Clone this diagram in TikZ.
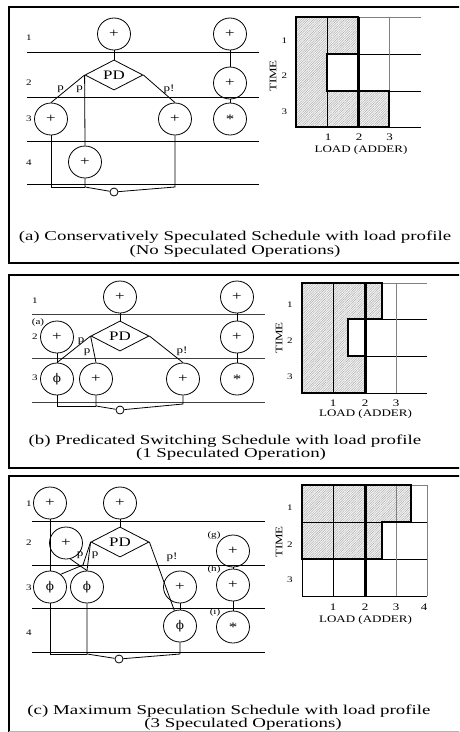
\documentclass[tikz,border=0pt]{standalone}
\usepackage{fontspec}
\setmainfont{Liberation Serif}[FakeStretch=1.3]
\newfontfamily\capfont{Liberation Serif}[FakeStretch=1.4]
\newfontfamily\phifont{DejaVu Serif}
\usetikzlibrary{shapes.geometric,patterns.meta}

\tikzset{
  op/.style={draw, ellipse, minimum width=33pt, minimum height=32pt, inner sep=0pt,
             line width=0.8pt, font=\fontsize{13}{13}\selectfont},
  phi/.style={op, font=\phifont\fontsize{12}{12}\selectfont},
  pd/.style={draw, diamond, minimum width=58pt, minimum height=28pt, inner sep=0pt,
             line width=0.8pt, font=\fontsize{13}{13}\selectfont},
  merge/.style={draw, circle, minimum size=8pt, inner sep=0pt, fill=white, line width=0.8pt},
  wire/.style={line width=0.8pt},
  stage/.style={line width=0.8pt},
  stageb/.style={line width=0.8pt, black!75},
  rowlab/.style={font=\fontsize{8.5}{8.5}\selectfont, inner sep=0pt},
  edgelab/.style={font=\fontsize{10}{10}\selectfont, inner sep=0pt},
  tag/.style={font=\fontsize{8.5}{8.5}\selectfont, inner sep=0pt},
  axlab/.style={font=\fontsize{10}{10}\selectfont, inner sep=0pt},
  caption/.style={font=\capfont\fontsize{13.5}{13.5}\selectfont, inner sep=0pt, anchor=base},
  panel/.style={line width=2pt},
  hatchbg/.style={fill=gray!10},
  hatch/.style={pattern={Lines[angle=45,distance=1.7pt,line width=0.3pt]}, pattern color=gray!75},
  grid/.style={line width=0.8pt},
  gridg/.style={line width=0.8pt, gray},
  limit/.style={line width=3pt},
  outline/.style={line width=1.1pt},
}

\begin{document}
\begin{tikzpicture}[x=1pt,y=-1pt]
\useasboundingbox (0,0) rectangle (459,732);
\clip (0,0) rectangle (459,732);

% ---------- panel frames ----------
\draw[panel] (470,7) -- (9,7) -- (9,263) -- (470,263);
\draw[panel] (470,275) -- (9,275) -- (9,468) -- (470,468);
\draw[panel] (470,476) -- (9,476) -- (9,733);
\draw[line width=0.6pt, gray!60] (9,731) -- (470,731);

% =====================================================
% (a) conservative schedule
% =====================================================
\foreach \y in {52,97,141,184} \draw[stage] (27,\y) -- (259,\y);
\node[rowlab] at (29,38) {1};
\node[rowlab] at (29,83) {2};
\node[rowlab] at (29,119) {3};
\node[rowlab] at (29,163) {4};

\node[op] (a1)  at (114,34) {+};
\node[pd] (aPD) at (114,75) {PD};
\node[op] (a3l) at (51,119) {+};
\node[op] (a3r) at (175,119) {+};
\node[op] (a4)  at (85,162) {+};
\node[op] (ar1) at (230,34) {+};
\node[op] (ar2) at (230,83) {+};
\node[op] (ar3) at (230,119) {*};
\node[merge] (am) at (114,192) {};

\draw[wire] (a1.south) -- (aPD.north);
\draw[wire] (aPD.west) -- (a3l.north);
\draw[wire] (aPD.west) -- (a4.north);
\draw[wire] (aPD.east) -- (a3r.north);
\draw[wire] (ar1.south) -- (ar2.north);
\draw[wire] (ar2.south) -- (ar3.north);

\coordinate (ab1) at (85,187);
\coordinate (ab2) at (175,187);
\draw[wire] (a3l.south) |- (ab1);
\draw[wire] (a4.south) -- (ab1) -- (am);
\draw[wire] (a3r.south) -- (ab2) -- (am);

\node[edgelab] at (60.5,89.5) {p};
\node[edgelab] at (79.5,89.5) {p};
\node[edgelab] at (169,89.5) {p!};

% load profile (a)
\node[axlab, rotate=90] at (273,76) {TIME};
\fill[hatchbg] (296,17) -- (358,17) -- (358,54) -- (327,54) -- (327,91) -- (389,91) -- (389,127) -- (296,127) -- cycle;
\fill[hatch] (296,17) -- (358,17) -- (358,54) -- (327,54) -- (327,91) -- (389,91) -- (389,127) -- (296,127) -- cycle;
\draw[gridg] (296,17) -- (421,17);
\draw[grid] (296,127) -- (421,127);
\draw[grid] (327,54) -- (421,54);
\draw[grid] (327,91) -- (421,91);
\draw[grid] (327,17) -- (327,127);
\draw[gridg] (389,17) -- (389,127);
\draw[grid] (296,17) -- (296,127);
\draw[outline] (296,17) -- (358,17) -- (358,54) -- (327,54) -- (327,91) -- (389,91) -- (389,127) -- (296,127) -- cycle;
\draw[limit] (358,17) -- (358,127);
\node[rowlab] at (284.5,41) {1};
\node[rowlab] at (284.5,76) {2};
\node[rowlab] at (284.5,112) {3};
\node[axlab] at (328,137) {1};
\node[axlab] at (359,137) {2};
\node[axlab] at (389.5,137) {3};
\node[axlab] at (361,150) {LOAD (ADDER)};

\node[caption] at (235,240) {(a) Conservatively Speculated Schedule with load profile};
\node[caption] at (235,254) {(No Speculated Operations)};

% =====================================================
% (b) predicated switching schedule
% =====================================================
\foreach \y in {314,358,402} \draw[stageb] (32,\y) -- (265,\y);
\node[rowlab] at (35,301) {1};
\node[rowlab] at (35,337) {2};
\node[rowlab] at (35,378) {3};

\node[op] (b1)  at (120,297) {+};
\node[pd] (bPD) at (120,336) {PD};
\node[op] (b2l) at (57,337) {+};
\node[phi] (b3f) at (57,379) {ϕ};
\node[op] (b3p) at (96,379) {+};
\node[op] (b3r) at (183,379) {+};
\node[op] (br1) at (237,297) {+};
\node[op] (br2) at (237,337) {+};
\node[op] (br3) at (237,379) {*};
\node[merge] (bm) at (120,410) {};
\node[tag] at (38,322) {(a)};

\draw[wire] (b1.south) -- (bPD.north);
\draw[wire] (bPD.west) -- (b3f.north);
\draw[wire] (b2l.south) -- (b3f.north);
\draw[wire] (bPD.west) -- (b3p.north);
\draw[wire] (bPD.east) -- (b3r.north);
\draw[wire] (br1.south) -- (br2.north);
\draw[wire] (br2.south) -- (br3.north);

\coordinate (bb1) at (96,406);
\coordinate (bb2) at (183,404);
\draw[wire] (b3f.south) |- (bb1);
\draw[wire] (b3p.south) -- (bb1) -- (bm);
\draw[wire] (b3r.south) -- (bb2) -- (bm);

\node[edgelab] at (81,341) {p};
\node[edgelab] at (87,352) {p};
\node[edgelab] at (182,351) {p!};

% load profile (b)
\node[axlab, rotate=90] at (279,338) {TIME};
\fill[hatchbg] (302,283) -- (382,283) -- (382,319) -- (348,319) -- (348,356) -- (365,356) -- (365,393) -- (302,393) -- cycle;
\fill[hatch] (302,283) -- (382,283) -- (382,319) -- (348,319) -- (348,356) -- (365,356) -- (365,393) -- (302,393) -- cycle;
\draw[gridg] (302,283) -- (427,283);
\draw[grid] (302,393) -- (427,393);
\draw[grid] (348,319) -- (427,319);
\draw[grid] (348,356) -- (427,356);
\draw[grid] (333,283) -- (333,393);
\draw[gridg] (396,283) -- (396,393);
\draw[grid] (302,283) -- (302,393);
\draw[outline] (302,283) -- (382,283) -- (382,319) -- (348,319) -- (348,356) -- (365,356) -- (365,393) -- (302,393) -- cycle;
\draw[limit] (365,283) -- (365,393);
\node[rowlab] at (290,305) {1};
\node[rowlab] at (290,341) {2};
\node[rowlab] at (290,377) {3};
\node[axlab] at (333,403) {1};
\node[axlab] at (365,403) {2};
\node[axlab] at (396,403) {3};
\node[axlab] at (365.5,414) {LOAD (ADDER)};

\node[caption] at (225,444) {(b) Predicated Switching Schedule with load profile};
\node[caption] at (231,457) {(1 Speculated Operation)};

% =====================================================
% (c) maximum speculation schedule
% =====================================================
\foreach \y in {521,565,608,652} \draw[stage] (32,\y) -- (265,\y);
\node[rowlab] at (29,504) {1};
\node[rowlab] at (29,543) {2};
\node[rowlab] at (29,588) {3};
\node[rowlab] at (29,633) {4};

\node[op] (c1l) at (50,503) {+};
\node[op] (c1)  at (120,503) {+};
\node[op] (c2l) at (66,543) {+};
\node[pd] (cPD) at (120,542) {PD};
\node[op] (cr1) at (233,551) {+};
\node[phi] (c3a) at (50,587) {ϕ};
\node[phi] (c3b) at (87,587) {ϕ};
\node[op] (c3r) at (180,587) {+};
\node[op] (cr2) at (233,585) {+};
\node[phi] (c4)  at (180,626) {ϕ};
\node[op] (cr3) at (233,627) {*};
\node[merge] (cm) at (119,659) {};
\node[tag] at (214,535) {(g)};
\node[tag] at (214,569) {(h)};
\node[tag] at (215,612) {(i)};

\draw[wire] (c1l.south) -- (c3a.north);
\draw[wire] (c1.south) -- (cPD.north);
\coordinate (cbend) at (83,565);
\draw[wire] (cPD.west) -- (cbend) -- (c3a.50);
\draw[wire] (cPD.west) -- (c3b.north);
\draw[wire] (c2l.-75) -- (c3b.north);
\draw[wire] (cPD.east) -- (c4.110);
\draw[wire] (c3r.south) -- (c4.north);
\draw[wire] (cr1.south) -- (cr2.north);
\draw[wire] (cr2.south) -- (cr3.north);

\coordinate (cb1) at (87,654);
\coordinate (cb2) at (180,654);
\draw[wire] (c3a.south) |- (cb1);
\draw[wire] (c3b.south) -- (cb1) -- (cm);
\draw[wire] (c4.south) -- (cb2) -- (cm);

\node[edgelab] at (80,555) {p};
\node[edgelab] at (95,555) {p};
\node[edgelab] at (172,557) {p!};

% load profile (c)
\node[axlab, rotate=90] at (279,542) {TIME};
\fill[hatchbg] (302,485) -- (411,485) -- (411,522) -- (382,522) -- (382,559) -- (302,559) -- cycle;
\fill[hatch] (302,485) -- (411,485) -- (411,522) -- (382,522) -- (382,559) -- (302,559) -- cycle;
\draw[gridg] (302,485) -- (427,485);
\draw[grid] (302,596) -- (427,596);
\draw[grid] (302,522) -- (427,522);
\draw[grid] (302,559) -- (427,559);
\draw[grid] (333,485) -- (333,596);
\draw[gridg] (396,485) -- (396,596);
\draw[gridg] (427,485) -- (427,596);
\draw[grid] (302,485) -- (302,596);
\draw[outline] (302,485) -- (411,485) -- (411,522) -- (382,522) -- (382,559) -- (302,559) -- cycle;
\draw[limit] (365,485) -- (365,596);
\node[rowlab] at (290,508) {1};
\node[rowlab] at (290,545) {2};
\node[rowlab] at (290,580) {3};
\node[axlab] at (333,607) {1};
\node[axlab] at (365,607) {2};
\node[axlab] at (396,607) {3};
\node[axlab] at (424,607) {4};
\node[axlab] at (365.5,620) {LOAD (ADDER)};

\node[caption] at (229,714) {(c) Maximum Speculation Schedule with load profile};
\node[caption] at (243,727) {(3 Speculated Operations)};
\end{tikzpicture}
\end{document}
